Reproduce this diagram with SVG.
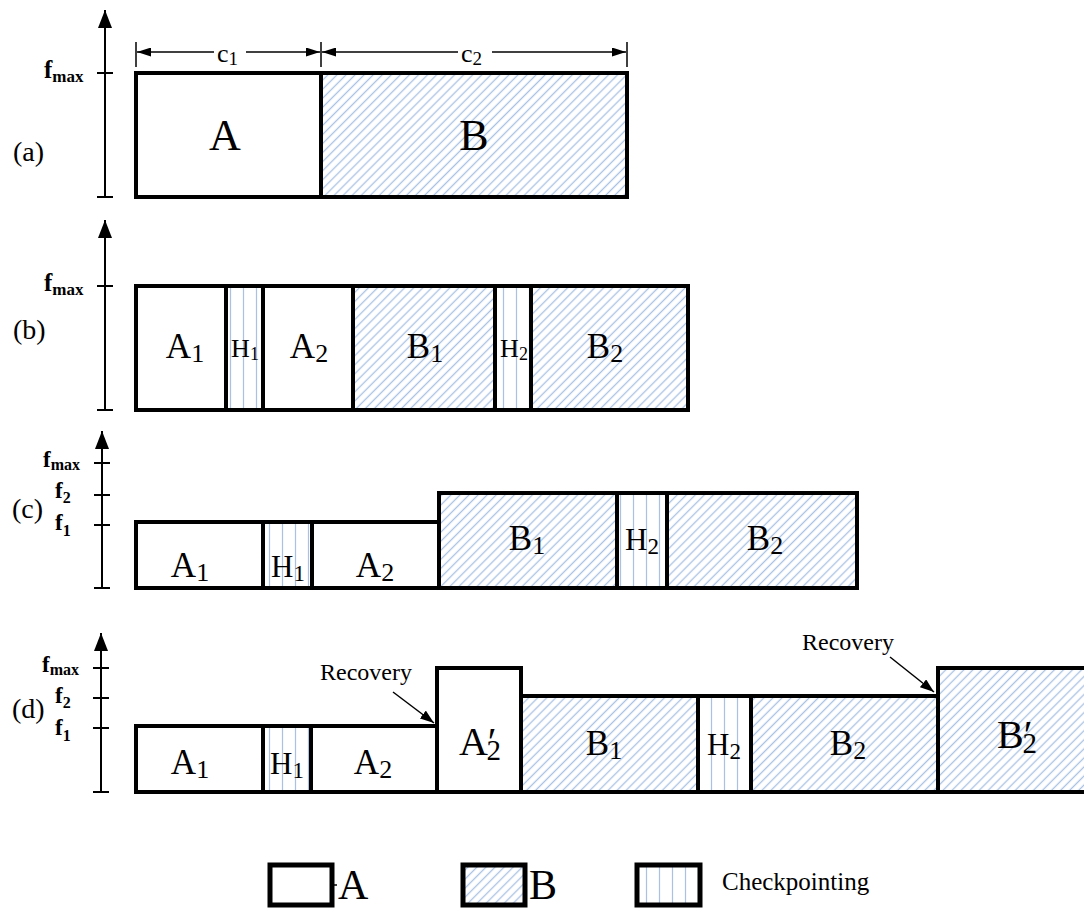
<svg xmlns="http://www.w3.org/2000/svg" width="1084" height="909" viewBox="0 0 1084 909">
  <style>
    .box{stroke:#000;stroke-width:4;stroke-linejoin:miter}
    .a{fill:#fff}
    .b{fill:url(#hatch)}
    .h{fill:url(#ckpt)}
    .ax{stroke:#000;stroke-width:2;fill:none}
    .tick{stroke:#000;stroke-width:2}
    .t{font-family:"Liberation Serif","Times New Roman",serif;fill:#000}
    .big{font-size:44px;text-anchor:middle}
    .lbl{font-size:35px;text-anchor:middle}
    .prime{font-size:40px;text-anchor:middle}
    .hl{font-size:31px;text-anchor:middle}
    .hs{font-size:26px;text-anchor:middle}
    .panel{font-size:28px}
    .f{font-weight:bold;font-size:25px}
    .fs{font-weight:bold;font-size:23px}
    .rec{font-size:24px}
    .dim{stroke:#000;stroke-width:1.5}
    .ptr{stroke:#000;stroke-width:1.5;fill:none}
  </style>
  <defs>
    <pattern id="hatch" width="6.4" height="6.4" patternUnits="userSpaceOnUse" patternTransform="rotate(45)">
      <rect width="6.4" height="6.4" fill="#fff"/>
      <line x1="3.2" y1="-1" x2="3.2" y2="7.4" stroke="#a9c1e3" stroke-width="1.3"/>
    </pattern>
    <pattern id="ckpt" x="3" y="0" width="13" height="10" patternUnits="userSpaceOnUse">
      <rect width="13" height="10" fill="#fff"/>
      <line x1="6.5" y1="-1" x2="6.5" y2="11" stroke="#a9c1e3" stroke-width="1.2"/>
    </pattern>
    <marker id="axhead" markerWidth="18" markerHeight="14" refX="18" refY="7" orient="auto" markerUnits="userSpaceOnUse" viewBox="0 0 18 14">
      <path d="M0,0 L18,7 L0,14 Z" fill="#000"/>
    </marker>
    <marker id="dimhead" markerWidth="14" markerHeight="9" refX="14" refY="4.5" orient="auto-start-reverse" markerUnits="userSpaceOnUse" viewBox="0 0 14 9">
      <path d="M0,0 L14,4.5 L0,9 Z" fill="#000"/>
    </marker>
    <marker id="ptrhead" markerWidth="14" markerHeight="10" refX="14" refY="5" orient="auto" markerUnits="userSpaceOnUse" viewBox="0 0 14 10">
      <path d="M0,0 L14,5 L0,10 Z" fill="#000"/>
    </marker>
  </defs>

  <rect width="1084" height="909" fill="#fff"/>

  <!-- panel (a): frequency axis -->
  <g id="axis-a">
    <line class="ax" x1="105" y1="197" x2="105" y2="10" marker-end="url(#axhead)"/>
    <line class="tick" x1="97" y1="73" x2="113" y2="73"/>
    <line class="tick" x1="97" y1="197" x2="113" y2="197"/>
    <text class="t f" x="44" y="78">f<tspan font-size="17" dy="4">max</tspan></text>
    <text class="t panel" x="13" y="161">(a)</text>
  </g>
  <g id="dim-c">
    <line class="dim" x1="136" y1="42" x2="136" y2="67"/>
    <line class="dim" x1="321" y1="42" x2="321" y2="67"/>
    <line class="dim" x1="627" y1="42" x2="627" y2="67"/>
    <line class="dim" x1="137" y1="52" x2="320" y2="52" marker-start="url(#dimhead)" marker-end="url(#dimhead)"/>
    <line class="dim" x1="322" y1="52" x2="626" y2="52" marker-start="url(#dimhead)" marker-end="url(#dimhead)"/>
    <rect x="214" y="38" width="32" height="28" fill="#fff"/>
    <rect x="458" y="38" width="34" height="28" fill="#fff"/>
    <text class="t" x="217" y="62" font-size="26">c<tspan font-size="19" dy="3">1</tspan></text>
    <text class="t" x="461" y="62" font-size="26">c<tspan font-size="19" dy="3">2</tspan></text>
  </g>
  <g id="a-A"><rect class="box a" x="136" y="73" width="185" height="124"/><text class="t big" x="225" y="150">A</text></g>
  <g id="a-B"><rect class="box b" x="321" y="73" width="306" height="124"/><text class="t big" x="474" y="150">B</text></g>

  <!-- panel (b) -->
  <g id="axis-b">
    <line class="ax" x1="105" y1="410" x2="105" y2="220" marker-end="url(#axhead)"/>
    <line class="tick" x1="97" y1="286" x2="113" y2="286"/>
    <line class="tick" x1="97" y1="410" x2="113" y2="410"/>
    <text class="t f" x="44" y="291">f<tspan font-size="17" dy="4">max</tspan></text>
    <text class="t panel" x="13" y="339">(b)</text>
  </g>
  <g id="b-A1"><rect class="box a" x="136" y="286" width="90" height="124"/><text class="t lbl" x="185" y="358">A<tspan font-size="26" dy="4">1</tspan></text></g>
  <g id="b-H1"><rect class="box h" x="226" y="286" width="37" height="124"/><text class="t hs" x="245" y="357">H<tspan font-size="18" dy="3">1</tspan></text></g>
  <g id="b-A2"><rect class="box a" x="263" y="286" width="90" height="124"/><text class="t lbl" x="309" y="358">A<tspan font-size="26" dy="4">2</tspan></text></g>
  <g id="b-B1"><rect class="box b" x="353" y="286" width="142" height="124"/><text class="t lbl" x="425" y="358">B<tspan font-size="26" dy="4">1</tspan></text></g>
  <g id="b-H2"><rect class="box h" x="495" y="286" width="36" height="124"/><text class="t hs" x="514" y="357">H<tspan font-size="18" dy="3">2</tspan></text></g>
  <g id="b-B2"><rect class="box b" x="531" y="286" width="157" height="124"/><text class="t lbl" x="605" y="358">B<tspan font-size="26" dy="4">2</tspan></text></g>

  <!-- panel (c) -->
  <g id="axis-c">
    <line class="ax" x1="102" y1="588" x2="102" y2="431" marker-end="url(#axhead)"/>
    <line class="tick" x1="94" y1="463" x2="110" y2="463"/>
    <line class="tick" x1="94" y1="495" x2="110" y2="495"/>
    <line class="tick" x1="94" y1="525" x2="110" y2="525"/>
    <line class="tick" x1="94" y1="588" x2="110" y2="588"/>
    <text class="t fs" x="43" y="467">f<tspan font-size="16" dy="3">max</tspan></text>
    <text class="t fs" x="55" y="498">f<tspan font-size="16" dy="5">2</tspan></text>
    <text class="t fs" x="55" y="530">f<tspan font-size="16" dy="6">1</tspan></text>
    <text class="t panel" x="12" y="518">(c)</text>
  </g>
  <g id="c-A1"><rect class="box a" x="136" y="522" width="127" height="66"/><text class="t lbl" x="190" y="577">A<tspan font-size="26" dy="4">1</tspan></text></g>
  <g id="c-H1"><rect class="box h" x="263" y="522" width="49" height="66"/><text class="t hl" x="288" y="577">H<tspan font-size="23" dy="4">1</tspan></text></g>
  <g id="c-A2"><rect class="box a" x="312" y="522" width="127" height="66"/><text class="t lbl" x="375" y="577">A<tspan font-size="26" dy="4">2</tspan></text></g>
  <g id="c-B1"><rect class="box b" x="439" y="493" width="178" height="95"/><text class="t lbl" x="527" y="550">B<tspan font-size="26" dy="4">1</tspan></text></g>
  <g id="c-H2"><rect class="box h" x="617" y="493" width="50" height="95"/><text class="t hl" x="642" y="550">H<tspan font-size="23" dy="4">2</tspan></text></g>
  <g id="c-B2"><rect class="box b" x="667" y="493" width="190" height="95"/><text class="t lbl" x="765" y="550">B<tspan font-size="26" dy="4">2</tspan></text></g>

  <!-- panel (d) -->
  <g id="axis-d">
    <line class="ax" x1="101" y1="792" x2="101" y2="633" marker-end="url(#axhead)"/>
    <line class="tick" x1="93" y1="668" x2="109" y2="668"/>
    <line class="tick" x1="93" y1="698" x2="109" y2="698"/>
    <line class="tick" x1="93" y1="728" x2="109" y2="728"/>
    <line class="tick" x1="93" y1="792" x2="109" y2="792"/>
    <text class="t fs" x="42" y="672">f<tspan font-size="16" dy="3">max</tspan></text>
    <text class="t fs" x="55" y="703">f<tspan font-size="16" dy="5">2</tspan></text>
    <text class="t fs" x="55" y="735">f<tspan font-size="16" dy="6">1</tspan></text>
    <text class="t panel" x="12" y="718">(d)</text>
  </g>
  <g id="d-A1"><rect class="box a" x="136" y="726" width="127" height="66"/><text class="t lbl" x="190" y="774">A<tspan font-size="26" dy="4">1</tspan></text></g>
  <g id="d-H1"><rect class="box h" x="263" y="726" width="48" height="66"/><text class="t hl" x="287" y="774">H<tspan font-size="23" dy="4">1</tspan></text></g>
  <g id="d-A2"><rect class="box a" x="311" y="726" width="126" height="66"/><text class="t lbl" x="373" y="774">A<tspan font-size="26" dy="4">2</tspan></text></g>
  <g id="d-A2p"><rect class="box a" x="437" y="668" width="84" height="124"/><text class="t prime" x="480" y="755">A<tspan>′</tspan><tspan font-size="29" dx="-10" dy="5">2</tspan></text></g>
  <g id="d-B1"><rect class="box b" x="521" y="696" width="177" height="96"/><text class="t lbl" x="604" y="755">B<tspan font-size="26" dy="4">1</tspan></text></g>
  <g id="d-H2"><rect class="box h" x="698" y="696" width="53" height="96"/><text class="t hl" x="724" y="755">H<tspan font-size="23" dy="4">2</tspan></text></g>
  <g id="d-B2"><rect class="box b" x="751" y="696" width="187" height="96"/><text class="t lbl" x="848" y="755">B<tspan font-size="26" dy="4">2</tspan></text></g>
  <g id="d-B2p"><rect class="box b" x="938" y="668" width="160" height="124"/><text class="t prime" x="1017" y="748">B<tspan>′</tspan><tspan font-size="29" dx="-10" dy="5">2</tspan></text></g>

  <g id="recovery-notes">
    <text class="t rec" x="320" y="680">Recovery</text>
    <text class="t rec" x="802" y="650">Recovery</text>
  </g>
  <g id="connectors">
    <line class="ptr" x1="393" y1="692" x2="434" y2="723" marker-end="url(#ptrhead)"/>
    <line class="ptr" x1="890" y1="657" x2="934" y2="692" marker-end="url(#ptrhead)"/>
  </g>

  <!-- legend -->
  <g id="legend-A">
    <rect x="270" y="865" width="62" height="40" fill="#fff" stroke="#000" stroke-width="5"/>
    <line x1="332" y1="885" x2="337" y2="885" stroke="#000" stroke-width="1.5"/>
    <text class="t" x="338" y="899" font-size="42">A</text>
  </g>
  <g id="legend-B">
    <rect x="463" y="865" width="62" height="40" fill="url(#hatch)" stroke="#000" stroke-width="5"/>
    <text class="t" x="529" y="899" font-size="42">B</text>
  </g>
  <g id="legend-H">
    <rect x="637" y="865" width="63" height="40" fill="url(#ckpt)" stroke="#000" stroke-width="5"/>
    <text class="t" x="722" y="890" font-size="25">Checkpointing</text>
  </g>
</svg>
